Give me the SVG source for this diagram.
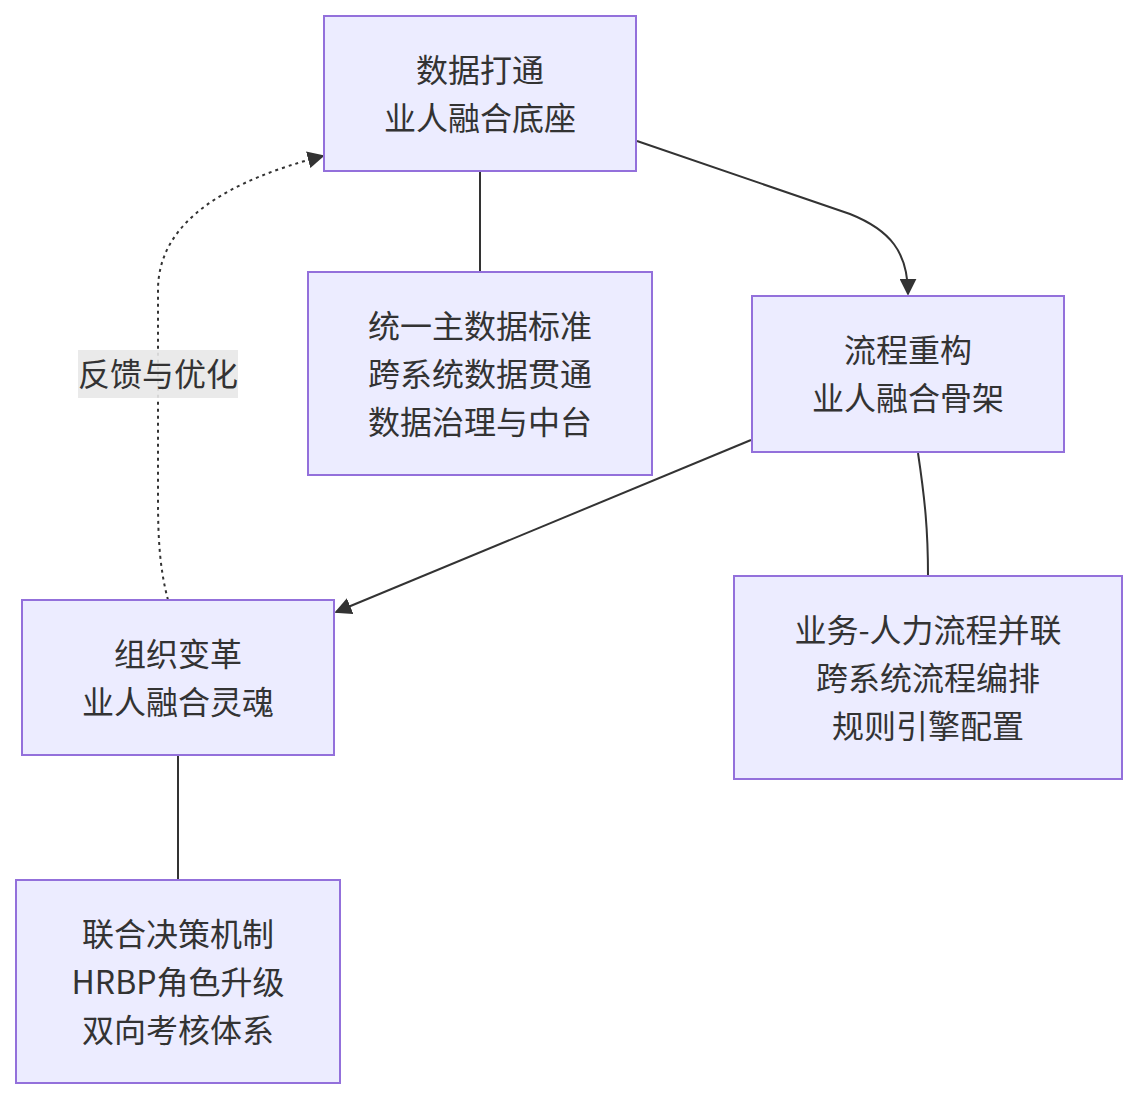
<svg xmlns="http://www.w3.org/2000/svg" width="1137" height="1100" viewBox="0 0 1137 1100">
<style>
.node rect{fill:#ECECFF;stroke:#9370DB;stroke-width:2}
text{font-family:"Noto Sans CJK SC","Noto Sans",sans-serif;font-size:32px;fill:#333;text-anchor:middle;dominant-baseline:central}
.edge{fill:none;stroke:#333;stroke-width:2}
.dot{stroke-dasharray:3 4}
</style>
<defs>
<marker id="ah" viewBox="0 0 10 10" refX="9" refY="5" markerUnits="userSpaceOnUse" markerWidth="17" markerHeight="17" orient="auto">
<path d="M0,0 L10,5 L0,10 z" fill="#333"/>
</marker>
</defs>
<rect width="1137" height="1100" fill="#fff"/>
<g id="edges">
<path class="edge" d="M480,172 L480,272"/>
<path class="edge" d="M637,141 L850,214 C890,230 908,252 908,294" marker-end="url(#ah)"/>
<path class="edge" d="M918,453 C925,500 928,530 928,576"/>
<path class="edge" d="M751,440 L336,612" marker-end="url(#ah)"/>
<path class="edge" d="M178,756 L178,880"/>
<path class="edge dot" d="M168,600 C160,570 158,540 158,500 L158,290 C158,220 230,180 323,156" marker-end="url(#ah)"/>
<g id="edge-label">
<rect x="78" y="350" width="160" height="48" fill="#e8e8e8" fill-opacity="0.9"/>
<text x="158" y="372">反馈与优化</text>
</g>
</g>
<g id="n1" class="node"><rect x="324" y="16" width="312" height="155"/><text x="480" y="68">数据打通</text><text x="480" y="116">业人融合底座</text></g>
<g id="n2" class="node"><rect x="308" y="272" width="344" height="203"/><text x="480" y="324">统一主数据标准</text><text x="480" y="372">跨系统数据贯通</text><text x="480" y="420">数据治理与中台</text></g>
<g id="n3" class="node"><rect x="752" y="296" width="312" height="156"/><text x="908" y="348">流程重构</text><text x="908" y="396">业人融合骨架</text></g>
<g id="n4" class="node"><rect x="734" y="576" width="388" height="203"/><text x="928" y="628">业务-人力流程并联</text><text x="928" y="676">跨系统流程编排</text><text x="928" y="724">规则引擎配置</text></g>
<g id="n5" class="node"><rect x="22" y="600" width="312" height="155"/><text x="178" y="652">组织变革</text><text x="178" y="700">业人融合灵魂</text></g>
<g id="n6" class="node"><rect x="16" y="880" width="324" height="203"/><text x="178" y="932">联合决策机制</text><text x="178" y="980">HRBP角色升级</text><text x="178" y="1028">双向考核体系</text></g>
</svg>
